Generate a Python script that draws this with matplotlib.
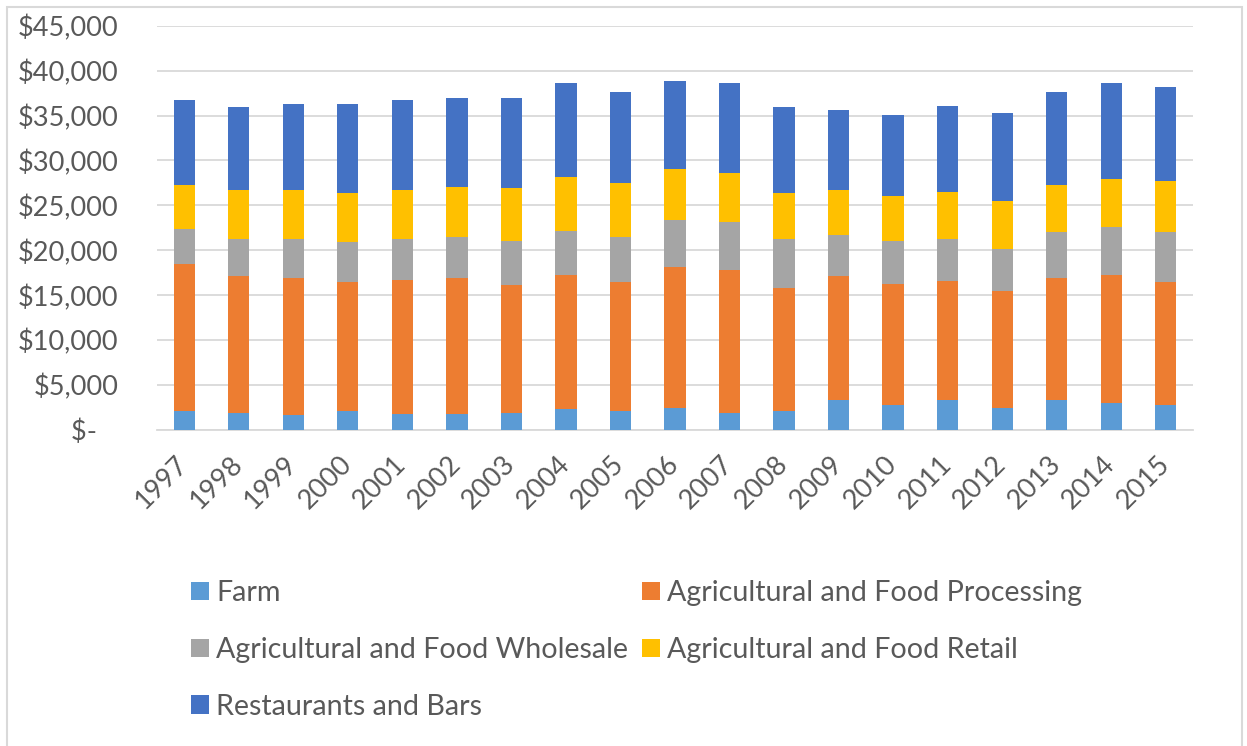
import numpy as np
import matplotlib
matplotlib.use('Agg')
import matplotlib.pyplot as plt
from matplotlib.patches import Rectangle, Patch
from matplotlib.ticker import FuncFormatter

# ---------------- DATA ----------------
years = [str(y) for y in range(1997, 2016)]
farm = [2100, 1930, 1630, 2100, 1800, 1800, 1930, 2370, 2100, 2500,
        1930, 2100, 3340, 2800, 3340, 2400, 3340, 3040, 2800]
processing = [16350, 15170, 15270, 14400, 14900, 15100, 14170, 14930, 14400, 15600,
              15870, 13700, 13760, 13500, 13260, 13100, 13560, 14260, 13700]
wholesale = [3950, 4200, 4400, 4400, 4600, 4600, 4900, 4900, 5000, 5300,
             5400, 5500, 4600, 4700, 4700, 4700, 5100, 5300, 5500]
retail = [4900, 5400, 5400, 5500, 5400, 5600, 5900, 6000, 6000, 5600,
          5400, 5100, 5000, 5000, 5200, 5300, 5300, 5350, 5700]
restaurants = [9400, 9200, 9600, 9900, 10000, 9900, 10100, 10400, 10100, 9900,
               10000, 9500, 8900, 9100, 9600, 9800, 10300, 10650, 10500]

series_names = ["Farm", "Agricultural and Food Processing",
                "Agricultural and Food Wholesale", "Agricultural and Food Retail",
                "Restaurants and Bars"]
series_colors = ["#5B9BD5", "#ED7D31", "#A5A5A5", "#FFC000", "#4472C4"]

# ---------------- STYLE ----------------
TEXT_COLOR = "#595959"
GRID_COLOR = "#D9D9D9"
plt.rcParams['font.family'] = ['Lato', 'DejaVu Sans']

W, H = 1247, 746
fig = plt.figure(figsize=(W / 100, H / 100), dpi=100)
ax = fig.add_axes([157 / W, 1 - 430 / H, (1193 - 157) / W, (430 - 25.7) / H])

# ---------------- STACKED BARS ----------------
x = np.arange(len(years))
bottom = np.zeros(len(years))
for vals, name, col in zip([farm, processing, wholesale, retail, restaurants],
                           series_names, series_colors):
    ax.bar(x, vals, width=0.39, bottom=bottom, color=col, label=name, zorder=3)
    bottom += np.array(vals)

ax.set_xlim(-0.5, len(years) - 0.5)
ax.set_ylim(0, 45000)
ax.set_yticks(np.arange(0, 45001, 5000))
ax.yaxis.set_major_formatter(FuncFormatter(lambda v, p: "$-   " if v == 0 else f"${v:,.0f}"))
ax.grid(axis='y', color=GRID_COLOR, linewidth=1.3, zorder=0)

for s in ['top', 'right', 'left']:
    ax.spines[s].set_visible(False)
ax.spines['bottom'].set_color(GRID_COLOR)
ax.spines['bottom'].set_linewidth(1.3)

ax.tick_params(axis='y', length=0, pad=28, labelsize=19.5, labelcolor=TEXT_COLOR)
ax.tick_params(axis='x', length=0, pad=22, labelsize=19.5, labelcolor=TEXT_COLOR)
ax.set_xticks(x)
ax.set_xticklabels(years, rotation=45, ha='right', va='center', rotation_mode='anchor')

# ---------------- LEGEND ----------------
# column-major fill, so reorder to read row by row
order = [0, 2, 4, 1, 3]
handles = [Patch(facecolor=series_colors[i], edgecolor='none') for i in order]
labels = [series_names[i] for i in order]
fig.legend(handles, labels, loc='upper left', bbox_to_anchor=(191 / W, 1 - 580 / H),
           ncol=2, frameon=False, fontsize=20.6, labelcolor=TEXT_COLOR,
           handlelength=0.62, handleheight=0.62, handletextpad=0.25,
           columnspacing=0.5, labelspacing=1.08, borderpad=0, borderaxespad=0)

# chart area border
fig.add_artist(Rectangle((7 / W, -0.02), (1242 - 7) / W, 1.02 - 7 / H,
                         transform=fig.transFigure, fill=False,
                         edgecolor=GRID_COLOR, linewidth=1.5))

fig.savefig("out.png", dpi=100)
